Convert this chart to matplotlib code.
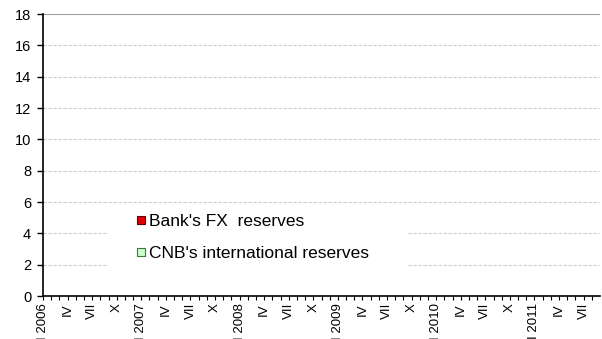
import numpy as np
import matplotlib.pyplot as plt
from matplotlib.lines import Line2D
from matplotlib.patches import Rectangle

plt.rcParams['font.family'] = ['Liberation Sans', 'DejaVu Sans']

# monthly observations, Jan 2006 - Aug 2011 (CZK bn)
years = [2006, 2007, 2008, 2009, 2010, 2011]
n_months = 68
bank_fx = np.zeros(n_months)
cnb_reserves = np.zeros(n_months)
roman = ['I', 'IV', 'VII', 'X']

labels = []
for k in range(n_months):
    m = k % 12
    if m == 0:
        labels.append('I ' + str(years[k // 12]))
    elif m % 3 == 0:
        labels.append(roman[m // 3])
    else:
        labels.append('')

fig = plt.figure(figsize=(6.02, 3.39), dpi=100)
ax = fig.add_axes([43 / 602, 1 - 296 / 339, 557 / 602, 282 / 339])

x = np.arange(n_months) + 0.5
ax.bar(x, cnb_reserves, width=0.8, color='#ccffcc', linewidth=0)
ax.bar(x, bank_fx, bottom=cnb_reserves, width=0.8, color='#e00000', linewidth=0)

ax.set_xlim(0, n_months)
ax.set_ylim(0, 18)
ax.set_yticks(np.arange(0, 19, 2))
ax.set_xticks(np.arange(n_months))
ax.set_xticklabels(labels, rotation=90, va='top', ha='center')

ax.tick_params(axis='y', direction='out', length=4.5, width=1, pad=4, labelsize=10.5)
ax.tick_params(axis='x', direction='out', length=3, width=0.8, pad=2, labelsize=9.5)

ax.set_axisbelow(True)
ax.yaxis.grid(True, color='#cfcfcf', linewidth=0.8, dashes=(3, 1.5))
ax.axhline(18, color='#8c8c8c', linewidth=1.2)

for s in ['top', 'right']:
    ax.spines[s].set_visible(False)
ax.spines['left'].set_linewidth(1.2)
ax.spines['bottom'].set_linewidth(1.2)

# white panel behind the legend
ax.add_patch(Rectangle((0.1167, 0.05), 0.537, 0.273, transform=ax.transAxes,
                       facecolor='white', edgecolor='none', zorder=1))

handles = [
    Line2D([], [], linestyle='none', marker='s', markersize=6,
           markerfacecolor='#e00000', markeredgecolor='#600000', markeredgewidth=0.8),
    Line2D([], [], linestyle='none', marker='s', markersize=6,
           markerfacecolor='#ccffcc', markeredgecolor='#2f7f2f', markeredgewidth=0.8),
]
ax.legend(handles, ["Bank's FX  reserves", "CNB's international reserves"],
          loc='upper left', bbox_to_anchor=(0.1688, 0.29), frameon=False,
          borderpad=0, borderaxespad=0, handlelength=0.5, handletextpad=0.2,
          labelspacing=0.95, fontsize=12.5)

fig.savefig('out.png', dpi=100)
